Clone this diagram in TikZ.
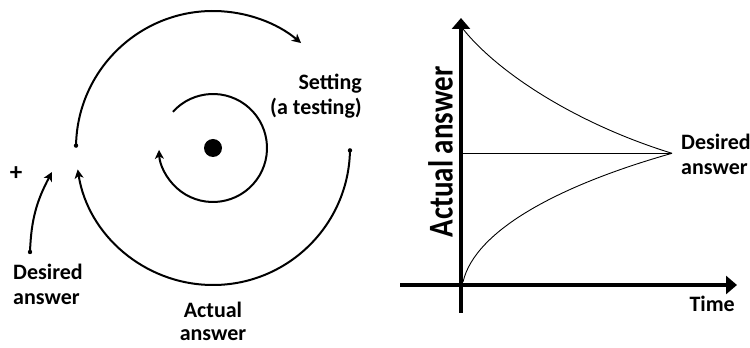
\documentclass[tikz,border=0pt]{standalone}
\usepackage{fontspec}
\setmainfont{Carlito}
\usepackage{xcolor}
\usepackage{tikz}
\usetikzlibrary{arrows.meta,positioning,calc}
\definecolor{inkB}{HTML}{000000}

\tikzset{
  loopline/.style={draw=inkB, line width=2pt,
    -{Stealth[length=9pt,width=9pt,inset=2.5pt]}},
  lbl/.style={font=\bfseries\fontsize{22}{25}\selectfont, text=inkB, inner sep=0pt},
  axisline/.style={draw=inkB, line width=3.5pt, -{Triangle[length=11pt,width=18pt]}},
  trace/.style={draw=inkB, line width=0.9pt}
}

\begin{document}
\begin{tikzpicture}[x=1pt,y=1pt]
  \useasboundingbox (0,0) rectangle (750,348);

  % feedback loop
  \coordinate (hub) at (213,200);
  \fill[inkB] (hub) circle[radius=9];
  \draw[loopline] ($(hub)+(138:54)$) arc[start angle=138, end angle=-178, radius=54];
  \draw[loopline] ($(hub)+(179:137)$) coordinate (upS)
    arc[start angle=179, end angle=50, radius=137];
  \draw[loopline] ($(hub)+(-1:137)$) coordinate (loS)
    arc[start angle=-1, end angle=-171, radius=137];
  \coordinate (dsS) at (30,96);
  \coordinate (dsE) at (52,176);
  \draw[loopline] (dsS) to[out=88, in=-118] (dsE);
  \foreach \p in {upS,loS,dsS} \fill[inkB] (\p) circle[radius=2.2];

  \node[lbl, font=\bfseries\fontsize{25}{28}\selectfont] (plus) at (16,174) {+};
  \node[lbl, anchor=base east, align=right] (setting) at (362,233) {Setting\\(a testing)};
  \node[lbl, anchor=base west, align=left] (desL) at (13,43) {Desired\\answer};
  \node[lbl, font=\bfseries\fontsize{22}{23}\selectfont, anchor=base, align=center]
    (actL) at (213,7) {Actual\\answer};

  % response graph
  \coordinate (xL) at (400,63);
  \coordinate (xR) at (737,63);
  \coordinate (yB) at (461,35);
  \coordinate (yT) at (461,330);
  \coordinate (goal) at (672,194.7);
  \coordinate (goalY) at (461,194.7);
  \draw[axisline] (xL) -- (xR);
  \draw[axisline] (yB) -- (yT);
  \draw[trace] (463,319) .. controls (500,273) and (580,223) .. (goal);
  \draw[trace] (463,66) .. controls (475,118) and (560,163) .. (goal);
  \draw[trace] (goalY) -- (goal);

  \node[lbl, font=\bfseries\fontsize{29}{33}\selectfont, rotate=90, anchor=base]
    (yLbl) at (452.7,196) {\scalebox{1}[1.2]{Actual answer}};
  \node[lbl, anchor=base west, align=left] (desR) at (681,173) {Desired\\answer};
  \node[lbl, anchor=base east] (time) at (735,36.3) {Time};
\end{tikzpicture}
\end{document}
